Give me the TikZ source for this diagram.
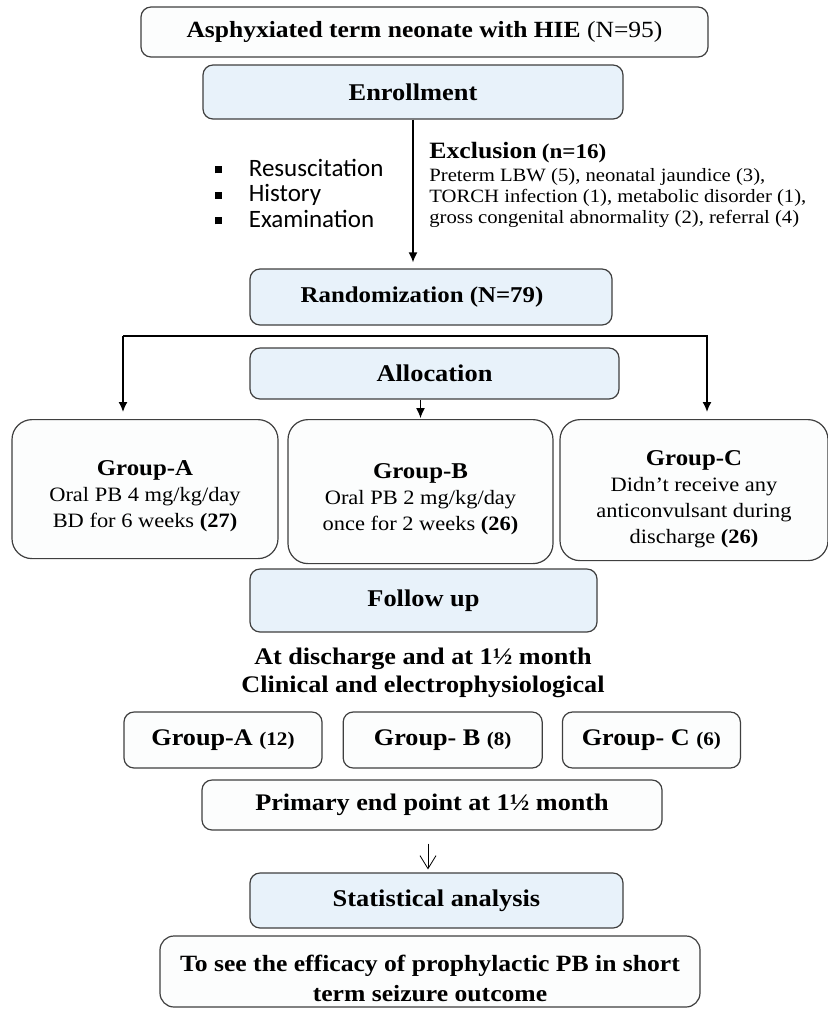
\documentclass[tikz,border=0pt]{standalone}
\usepackage{fontspec}
\setmainfont[FakeStretch=1.1]{Liberation Serif}
\newfontfamily\bulletfont{Carlito}
\usetikzlibrary{positioning,arrows.meta}

\definecolor{boxblue}{HTML}{E8F2FA}
\definecolor{boxedge}{HTML}{3F3F3F}
\definecolor{boxwhite}{HTML}{FCFDFD}
\newcommand{\sqbul}{\raisebox{1.4pt}{\rule{3.4pt}{3.4pt}}\hspace{13.5pt}}
\newcommand{\fsz}[1]{\fontsize{#1}{1.2\dimexpr#1pt\relax}\selectfont}

\begin{document}
\begin{tikzpicture}[x=0.5pt,y=-0.5pt,
		plainbox/.style={draw=boxedge,fill=boxwhite,rounded corners=5pt,line width=0.6pt,align=center,inner sep=0pt,font=\fsz{12}},
		bluebox/.style={plainbox,fill=boxblue},
		groupbox/.style={plainbox,rounded corners=10pt,anchor=north,font=\fontsize{10.2}{13}\selectfont},
		rowbox/.style={plainbox,minimum height=28pt,font=\fsz{11.9}},
		flow/.style={-{Latex[length=5pt,width=4.5pt]},line width=0.8pt,line join=miter},
		thinflow/.style={-{Straight Barb[length=6.5pt,width=8pt]},line width=0.4pt}]
	\useasboundingbox (0,0) rectangle (828,1009);

	\node[plainbox,minimum width=283.5pt,minimum height=25pt,font=\fsz{11.6}]	(hie)	at (424.5,32)	{\textbf{Asphyxiated term neonate with HIE} (N=95)};
	\node[bluebox,minimum width=210pt,minimum height=27pt]		(enroll)	at (413,92)		{\textbf{Enrollment}};

	\node[font=\bulletfont\fontsize{12.5}{12.75}\selectfont,align=left,anchor=west]	(steps)	at (208,193)
		{\sqbul Resuscitation\\\sqbul History\\\sqbul Examination};
	\node[font=\fontsize{9.4}{10.4}\selectfont,align=left,anchor=west,inner sep=0pt]	(exclude)	at (429,185)
		{{\bfseries\fsz{11.7}Exclusion} {\bfseries\fsz{10.5}(n=16)}\\[1pt]
		Preterm LBW (5), neonatal jaundice (3),\\
		TORCH infection (1), metabolic disorder (1),\\
		gross congenital abnormality (2), referral (4)};

	\node[bluebox,minimum width=181pt,minimum height=28pt,font=\fsz{11.3}]	(random)	at (431,297)	{\textbf{Randomization (N=79)}\hspace*{9pt}};
	\node[bluebox,minimum width=184.5pt,minimum height=25.5pt]	(alloc)		at (434.5,373.5)	{\textbf{Allocation}};

	% three arms
	\node[groupbox,minimum width=133pt,minimum height=69.5pt]	(grpA)	at (145,419)
		{\rule{0pt}{15pt}{\bfseries\fsz{11.3}Group-A}\\Oral PB 4 mg/kg/day\\BD for 6 weeks \textbf{(27)}};
	\node[groupbox,minimum width=132.5pt,minimum height=72pt]	(grpB)	at (420.5,419)
		{\rule{0pt}{15pt}{\bfseries\fsz{11.3}Group-B}\\Oral PB 2 mg/kg/day\\once for 2 weeks \textbf{(26)}};
	\node[groupbox,minimum width=134pt,minimum height=70.5pt]	(grpC)	at (694,419)
		{\rule{0pt}{17pt}{\bfseries\fsz{11.3}Group-C}\\Didn’t receive any\\anticonvulsant during\\discharge \textbf{(26)}};

	\node[bluebox,minimum width=173.5pt,minimum height=31.5pt]	(follow)	at (423.5,600.5)	{\textbf{Follow up}};
	\node[font=\bfseries\fontsize{11.9}{13.8}\selectfont,align=center]	(when)	at (423,673)
		{At discharge and at 1½ month\\Clinical and electrophysiological};

	% outcome per arm
	\node[rowbox,minimum width=99pt]						(rowA)	at (223,740)	{\textbf{Group-A} {\bfseries\fsz{9.6}(12)}};
	\node[rowbox,minimum width=99.5pt,right=10pt of rowA]	(rowB)	{\textbf{Group- B} {\bfseries\fsz{9.6}(8)}};
	\node[rowbox,minimum width=89pt,right=9.5pt of rowB]	(rowC)	{\textbf{Group- C} {\bfseries\fsz{9.6}(6)}};

	\node[plainbox,minimum width=230pt,minimum height=25pt,font=\fsz{11.9}]	(primary)	at (432,805)	{\textbf{Primary end point at 1½ month}};
	\node[bluebox,minimum width=186.5pt,minimum height=27.5pt]	(stat)		at (436.5,900.5)	{\textbf{Statistical analysis}};
	\node[plainbox,rounded corners=7pt,minimum width=270pt,minimum height=35.5pt,font=\fontsize{11.65}{15}\selectfont]	(aim)	at (430,971.5)
		{\rule{0pt}{15pt}\textbf{To see the efficacy of prophylactic PB in short}\\\textbf{term seizure outcome}};

	\coordinate (lft) at (123,336);
	\coordinate (rgt) at (707,336);

	\draw[flow,shorten >=3pt] (enroll.south) -- (enroll.south |- random.north);
	\draw[flow,shorten >=3.5pt] (lft) -- (lft |- grpA.north);
	\draw[flow,shorten >=3.5pt] (lft) -- (rgt) -- (rgt |- grpC.north);
	\draw[flow,line width=0.6pt,shorten >=0.5pt] (alloc.south -| grpB.north) -- (grpB.north);
	\draw[thinflow,shorten <=6.5pt,shorten >=1.5pt] (primary.south -| 428,0) -- (stat.north -| 428,0);
\end{tikzpicture}
\end{document}
